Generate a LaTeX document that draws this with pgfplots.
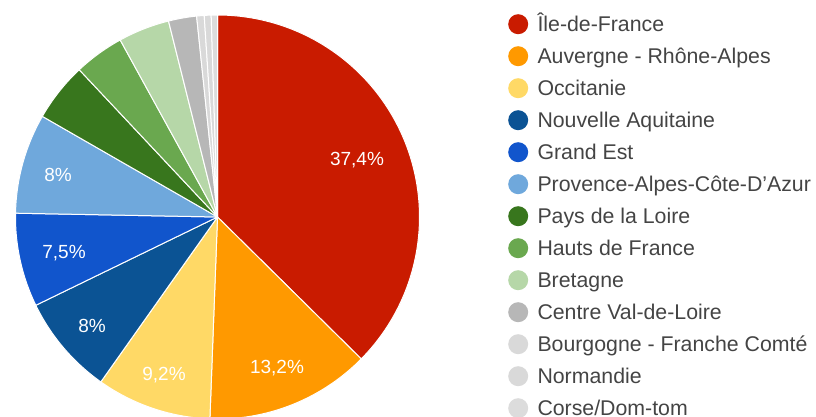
\documentclass[border=0pt]{standalone}
\usepackage{pgfplots}
\pgfplotsset{compat=1.18}
\usepackage{fontspec}
\setmainfont{Liberation Sans}
\definecolor{cIDF}{HTML}{C91B00}
\definecolor{cAURA}{HTML}{FF9900}
\definecolor{cOCC}{HTML}{FFD966}
\definecolor{cNA}{HTML}{0B5394}
\definecolor{cGE}{HTML}{1155CC}
\definecolor{cPACA}{HTML}{6FA8DC}
\definecolor{cPDL}{HTML}{38761D}
\definecolor{cHDF}{HTML}{6AA84F}
\definecolor{cBRE}{HTML}{B6D7A8}
\definecolor{cCVL}{HTML}{B7B7B7}
\definecolor{cBFC}{HTML}{D9D9D9}
\definecolor{cNOR}{HTML}{D9D9D9}
\definecolor{cCOR}{HTML}{DCDCDC}
\definecolor{legtext}{HTML}{444444}
% #1 cumulative start (%), #2 value (%), #3 colour, #4 name
\newcommand\slice[4]{%
  \pgfmathsetmacro\thA{90-3.6*(#1+#2)}%
  \pgfmathsetmacro\thB{90-3.6*(#1)}%
  \edef\doplot{\noexpand\addplot[fill=#3, draw=white, line width=1bp, line join=round,
    domain=\thA:\thB, samples=90, variable=\noexpand\t]
    ({217.5+202*cos(\noexpand\t)},{200+202*sin(\noexpand\t)}) -- (217.5,200) -- cycle;}%
  \doplot
  \addlegendentry{#4}%
}
\begin{document}
\begin{tikzpicture}
\useasboundingbox (0,0) rectangle (816bp,417bp);
\clip (0,0) rectangle (816bp,417bp);
\begin{axis}[
  at={(0,0)}, anchor=south west,
  width=816bp, height=417bp, scale only axis,
  xmin=0, xmax=816, ymin=0, ymax=417,
  hide axis,
  legend cell align=left,
  legend image code/.code={\fill[#1, draw=none] (0bp,0bp) circle (10bp);},
  legend style={at={(axis cs:508,403)}, anchor=north west, draw=none, fill=none,
    inner sep=0pt, row sep=12bp, column sep=9.3bp,
    font=\fontsize{21.3bp}{25bp}\selectfont\color{legtext},
    nodes={inner sep=0pt, text height=15.2bp, text depth=0pt}},
]
\slice{0}{37.4}{cIDF}{Île-de-France}
\slice{37.4}{13.2}{cAURA}{Auvergne - Rhône-Alpes}
\slice{50.6}{9.2}{cOCC}{Occitanie}
\slice{59.8}{8.0}{cNA}{Nouvelle Aquitaine}
\slice{67.8}{7.5}{cGE}{Grand Est}
\slice{75.3}{8.0}{cPACA}{Provence-Alpes-Côte-D’Azur}
\slice{83.3}{4.7}{cPDL}{Pays de la Loire}
\slice{88.0}{4.0}{cHDF}{Hauts de France}
\slice{92.0}{4.1}{cBRE}{Bretagne}
\slice{96.1}{2.25}{cCVL}{Centre Val-de-Loire}
\slice{98.35}{0.6}{cBFC}{Bourgogne - Franche Comté}
\slice{98.95}{0.55}{cNOR}{Normandie}
\slice{99.5}{0.5}{cCOR}{Corse/Dom-tom}
\begin{scope}[every node/.style={text=white, font=\fontsize{19bp}{22bp}\selectfont}]
\node at (axis cs:357,257) {37,4\%};
\node at (axis cs:277,49) {13,2\%};
\node at (axis cs:164,42) {9,2\%};
\node at (axis cs:92,91) {8\%};
\node at (axis cs:64,164) {7,5\%};
\node at (axis cs:58,242) {8\%};
\end{scope}
\end{axis}
\end{tikzpicture}
\end{document}
